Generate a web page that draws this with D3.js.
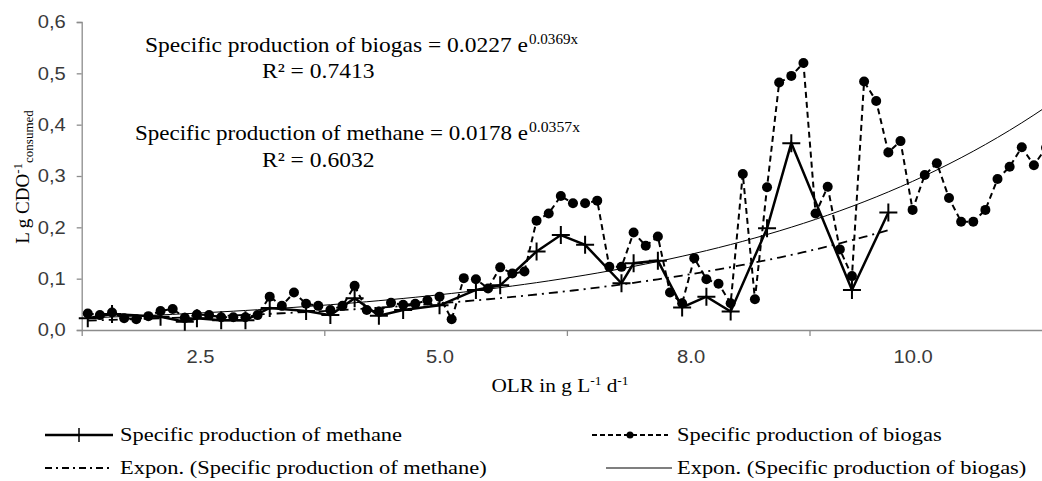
<!DOCTYPE html>
<html>
<head>
<meta charset="utf-8">
<script src="https://cdn.jsdelivr.net/npm/d3@7"></script>
<style>
  body { margin: 0; background: #fff; }
  svg { display: block; }
  .serif { font-family: "Liberation Serif", "Times New Roman", serif; fill: #000; }
</style>
</head>
<body>
<svg id="chart" width="1042" height="481"></svg>
<script>
// Specific production of biogas, one value per category (day)
const biogas = [
  0.032, 0.029, 0.034, 0.023, 0.021, 0.027, 0.037, 0.041, 0.024, 0.030,
  0.029, 0.025, 0.025, 0.025, 0.029, 0.065, 0.047, 0.073, 0.051, 0.047,
  0.039, 0.047, 0.086, 0.039, 0.036, 0.053, 0.049, 0.051, 0.058, 0.065,
  0.021, 0.101, 0.099, 0.081, 0.122, 0.110, 0.114, 0.213, 0.227, 0.261,
  0.247, 0.247, 0.252, 0.123, 0.123, 0.190, 0.164, 0.182, 0.073, 0.052,
  0.140, 0.099, 0.090, 0.052, 0.304, 0.060, 0.278, 0.482, 0.495, 0.520,
  0.227, 0.279, 0.157, 0.105, 0.484, 0.446, 0.346, 0.368, 0.234, 0.302,
  0.325, 0.257, 0.211, 0.211, 0.234, 0.294, 0.318, 0.356, 0.321, 0.355
];
const categories = biogas.map((d, i) => i + 1);

// Specific production of methane, measured on fewer days
const methaneCat = [1, 3, 7, 9, 10, 12, 14, 16, 19, 21, 23, 25, 27, 30, 33, 35, 38, 40, 42, 45, 46, 48, 50, 52, 54, 57, 59, 64, 67];
const methaneVal = [0.023, 0.031, 0.026, 0.016, 0.023, 0.019, 0.019, 0.043, 0.037, 0.029, 0.062, 0.028, 0.039, 0.048, 0.078, 0.087, 0.153, 0.185, 0.166, 0.091, 0.130, 0.135, 0.044, 0.065, 0.036, 0.198, 0.364, 0.078, 0.229];

// exponential trendlines as printed on the chart: y = a e^(b x)
const biogasFit = [0.0227, 0.0369];
const methaneFit = [0.0178, 0.0357];

const yTicks = [0, 0.1, 0.2, 0.3, 0.4, 0.5, 0.6];
const xTickLabels = ["2.5", "5.0", "8.0", "10.0"];
const xTickLabelAt = [10.25, 30, 50.7, 69];
const xTickMarks = [0.5, 20.5, 40.5, 60.5, 80.5];

const svg = d3.select("#chart");

const x = d3.scaleLinear().domain([0.5, 80.5]).range([81.7, 1052.1]);
const y = d3.scaleLinear().domain([0, 0.6]).range([330, 22]);

// the picture's text runs a little wide, so stretch rendered text horizontally
function widen(sel, k) {
    sel.each(function () {
        const w = this.getComputedTextLength();
        d3.select(this).attr("textLength", w * k).attr("lengthAdjust", "spacingAndGlyphs");
    });
}

// axes
const yAxis = svg.append("g")
    .attr("transform", `translate(${x.range()[0]},0)`)
    .call(d3.axisLeft(y).tickValues(yTicks).tickSize(5).tickPadding(11)
        .tickFormat(d => d3.format(".1f")(d).replace(".", ",")));
const xAxis = svg.append("g")
    .attr("transform", `translate(0,${y(0)})`)
    .call(d3.axisBottom(x).tickValues(xTickMarks).tickSize(6).tickFormat("").tickSizeOuter(0));
const xLabels = svg.append("g")
    .attr("transform", `translate(0,${y(0)})`)
    .call(d3.axisBottom(x).tickValues(xTickLabelAt).tickSize(0).tickPadding(20)
        .tickFormat((d, i) => xTickLabels[i]));
xLabels.select(".domain").remove();

[yAxis, xAxis].forEach(g => {
    g.select(".domain").attr("stroke", "#8c8c8c").attr("stroke-width", 1.3);
    g.selectAll(".tick line").attr("stroke", "#8c8c8c").attr("stroke-width", 1.3);
});
[yAxis, xLabels].forEach(g => g.selectAll("text")
    .attr("font-family", "'Liberation Sans', Arial, sans-serif")
    .attr("font-size", 18).attr("fill", "#3a3a3a"));
widen(yAxis.selectAll("text"), 1.12);
widen(xLabels.selectAll("text"), 1.12);

// trendlines
const biogasTrend = categories.map(c => [c, biogasFit[0] * Math.exp(biogasFit[1] * c)]);
const methaneTrend = categories.filter(c => c <= d3.max(methaneCat))
    .map(c => [c, methaneFit[0] * Math.exp(methaneFit[1] * c)]);
const line = d3.line().x(d => x(d[0])).y(d => y(d[1]));

const plot = svg.append("g");
plot.append("path").datum(biogasTrend).attr("d", line)
    .attr("fill", "none").attr("stroke", "#000").attr("stroke-width", 1);
plot.append("path").datum(methaneTrend).attr("d", line)
    .attr("fill", "none").attr("stroke", "#000").attr("stroke-width", 1.8)
    .attr("stroke-dasharray", "9,5,2,5");

// biogas series
const biogasPts = categories.map((c, i) => [c, biogas[i]]);
plot.append("path").datum(biogasPts).attr("d", line)
    .attr("fill", "none").attr("stroke", "#000").attr("stroke-width", 2)
    .attr("stroke-dasharray", "6,4");
plot.append("g").selectAll("circle").data(biogasPts).join("circle")
    .attr("cx", d => x(d[0])).attr("cy", d => y(d[1])).attr("r", 5).attr("fill", "#000");

// methane series
const methanePts = methaneCat.map((c, i) => [c, methaneVal[i]]);
plot.append("path").datum(methanePts).attr("d", line)
    .attr("fill", "none").attr("stroke", "#000").attr("stroke-width", 2.5);
plot.append("g").selectAll("path").data(methanePts).join("path")
    .attr("d", d => `M${x(d[0]) - 9},${y(d[1])}h18M${x(d[0])},${y(d[1]) - 9}v18`)
    .attr("stroke", "#000").attr("stroke-width", 2);

// equations
function txt(px, py, str, size, len) {
    const t = svg.append("text").attr("class", "serif")
        .attr("x", px).attr("y", py).attr("font-size", size).text(str);
    if (len) t.attr("textLength", len).attr("lengthAdjust", "spacingAndGlyphs");
    return t;
}
txt(145, 52, "Specific production of biogas  = 0.0227 e", 21, 383);
txt(529, 44, "0.0369x", 15, 49);
widen(txt(262, 78, "R² = 0.7413", 21), 1.12);
txt(135, 140, "Specific production of methane = 0.0178 e", 21, 393);
txt(529, 132, "0.0357x", 15, 51);
widen(txt(262, 167, "R² = 0.6032", 21), 1.12);

// axis titles
const xt = svg.append("text").attr("class", "serif").attr("font-size", 19)
    .attr("x", 560).attr("y", 392).attr("text-anchor", "middle");
xt.append("tspan").text("OLR in g L");
xt.append("tspan").attr("font-size", 12).attr("dy", -7).text("-1");
xt.append("tspan").attr("dy", 7).text(" d");
xt.append("tspan").attr("font-size", 12).attr("dy", -7).text("-1");
widen(xt, 1.12);

const yt = svg.append("text").attr("class", "serif").attr("font-size", 19)
    .attr("transform", "translate(29,177) rotate(-90)").attr("text-anchor", "middle");
yt.append("tspan").text("L g CDO");
yt.append("tspan").attr("font-size", 13).attr("dy", -7).text("-1");
yt.append("tspan").attr("font-size", 13).attr("dy", 11).text("consumed");

// legend
const legend = svg.append("g");
const row1 = 435, row2 = 468;
legend.append("line").attr("x1", 45).attr("x2", 113).attr("y1", row1).attr("y2", row1)
    .attr("stroke", "#000").attr("stroke-width", 2.5);
legend.append("path").attr("d", `M72,${row1}h14M79,${row1 - 7}v14`).attr("stroke", "#000").attr("stroke-width", 1.5);

legend.append("line").attr("x1", 592).attr("x2", 668).attr("y1", row1).attr("y2", row1)
    .attr("stroke", "#000").attr("stroke-width", 2).attr("stroke-dasharray", "5,3");
legend.append("circle").attr("cx", 630).attr("cy", row1).attr("r", 3.5).attr("fill", "#000");

legend.append("line").attr("x1", 45).attr("x2", 113).attr("y1", row2).attr("y2", row2)
    .attr("stroke", "#000").attr("stroke-width", 2).attr("stroke-dasharray", "7,4,2,4");

legend.append("line").attr("x1", 606).attr("x2", 672).attr("y1", row2).attr("y2", row2)
    .attr("stroke", "#000").attr("stroke-width", 1.2);

const legendText = [
    txt(120, row1 + 6, "Specific production of methane", 19),
    txt(677, row1 + 6, "Specific production of biogas", 19),
    txt(120, row2 + 6, "Expon. (Specific production of methane)", 19),
    txt(677, row2 + 6, "Expon. (Specific production of biogas)", 19)
];
legendText.forEach(t => widen(t, 1.18));
</script>
</body>
</html>
